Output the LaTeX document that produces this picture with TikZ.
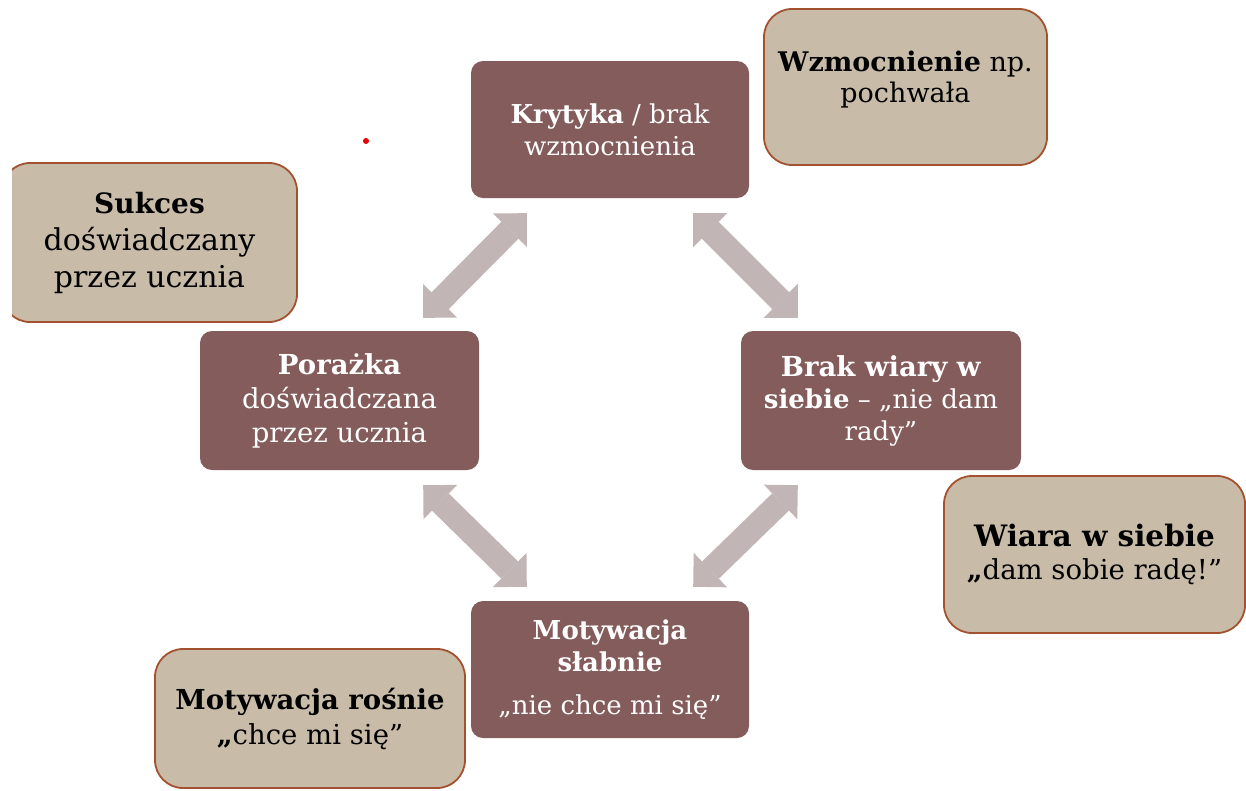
\documentclass[tikz,border=0pt]{standalone}
\usepackage{fontspec}
\setmainfont{DejaVu Serif}
\usetikzlibrary{arrows.meta,calc}
\definecolor{boxbrown}{HTML}{845C5C}
\definecolor{boxtan}{HTML}{C8BCA9}
\definecolor{boxedge}{HTML}{A3512E}
\definecolor{arrowgray}{HTML}{C1B5B5}
\tikzset{
  brownbox/.style={rectangle, rounded corners=12pt, fill=boxbrown, text=white, align=center, inner sep=0pt, font=\fontsize{26}{32}\selectfont},
  tanbox/.style={rectangle, rounded corners=28pt, fill=boxtan, draw=boxedge, line width=1.8pt, text=black, align=center, inner sep=0pt, font=\fontsize{27}{35}\selectfont},
  tantext/.style={align=center, text=black, inner sep=0pt, font=\fontsize{27}{31}\selectfont},
  dblarrow/.style={line width=24pt, draw=arrowgray, line cap=butt,
    {Triangle[width=48pt,length=24pt,line width=0pt]}-{Triangle[width=48pt,length=24pt,line width=0pt]}},
}
\begin{document}
\begin{tikzpicture}[x=1pt,y=-1pt]
\useasboundingbox (0,0) rectangle (1246,790);
\fill[white] (0,0) rectangle (1246,790);

% brown cycle boxes
\node[brownbox, minimum width=278pt, minimum height=137pt] (kr) at (610,129.5)
  {\textbf{Krytyka} / brak\\wzmocnienia};
\node[brownbox, minimum width=279pt, minimum height=139pt, font=\fontsize{27.5}{34}\selectfont] (po) at (339.5,400.5)
  {\textbf{Porażka}\\doświadczana\\przez ucznia};
\node[brownbox, minimum width=280pt, minimum height=139pt] (br) at (881,400.5)
  {{\fontsize{27.5}{32}\selectfont\textbf{Brak wiary w}}\\\textbf{siebie} – „nie dam\\rady”};
\node[brownbox, minimum width=278pt, minimum height=137pt] (ms) at (610,669.5)
  {\textbf{Motywacja}\\\textbf{słabnie}\\[11pt]„nie chce mi się”};

% tan boxes
\node[tanbox, minimum width=283pt, minimum height=156pt] (wz) at (905.5,87) {};
\node[tantext] (wzt) at ($(wz.center)+(0,-7)$) {\textbf{Wzmocnienie} np.\\pochwała};
\begin{scope}
  \clip (12,0) rectangle (1246,790);
  \node[tanbox, minimum width=295pt, minimum height=159pt, font=\fontsize{30}{37}\selectfont] (su) at (149.5,242.5)
    {{\fontsize{28}{37}\selectfont\textbf{Sukces}}\\doświadczany\\przez ucznia};
\end{scope}
\node[tanbox, minimum width=301pt, minimum height=157pt, font=\fontsize{27.5}{33}\selectfont] (wi) at (1094.5,554.5)
  {{\fontsize{29.5}{33}\selectfont\textbf{Wiara w siebie}}\\\textbf{„}dam sobie radę!”};
\node[tanbox, minimum width=310pt, minimum height=139pt, font=\fontsize{27.5}{35}\selectfont] (mr) at (310,718.5)
  {\textbf{Motywacja rośnie}\\\textbf{„}chce mi się”};

% arrow end points
\coordinate (a1s) at ($(kr.south west)+(56,15)$);
\coordinate (a1e) at ($(po.north east)+(-56,-13)$);
\coordinate (a2s) at ($(kr.south east)+(-56,15)$);
\coordinate (a2e) at ($(br.north west)+(57,-13)$);
\coordinate (a3s) at ($(po.south east)+(-56,15)$);
\coordinate (a3e) at ($(ms.north west)+(56,-14)$);
\coordinate (a4s) at ($(br.south west)+(57,15)$);
\coordinate (a4e) at ($(ms.north east)+(-56,-14)$);

\draw[dblarrow] (a1s) -- (a1e);
\draw[dblarrow] (a2s) -- (a2e);
\draw[dblarrow] (a3s) -- (a3e);
\draw[dblarrow] (a4s) -- (a4e);

% red dot
\node[circle, fill=red!90!black, inner sep=0pt, minimum size=6pt] (dot) at (366,141) {};
\end{tikzpicture}
\end{document}
